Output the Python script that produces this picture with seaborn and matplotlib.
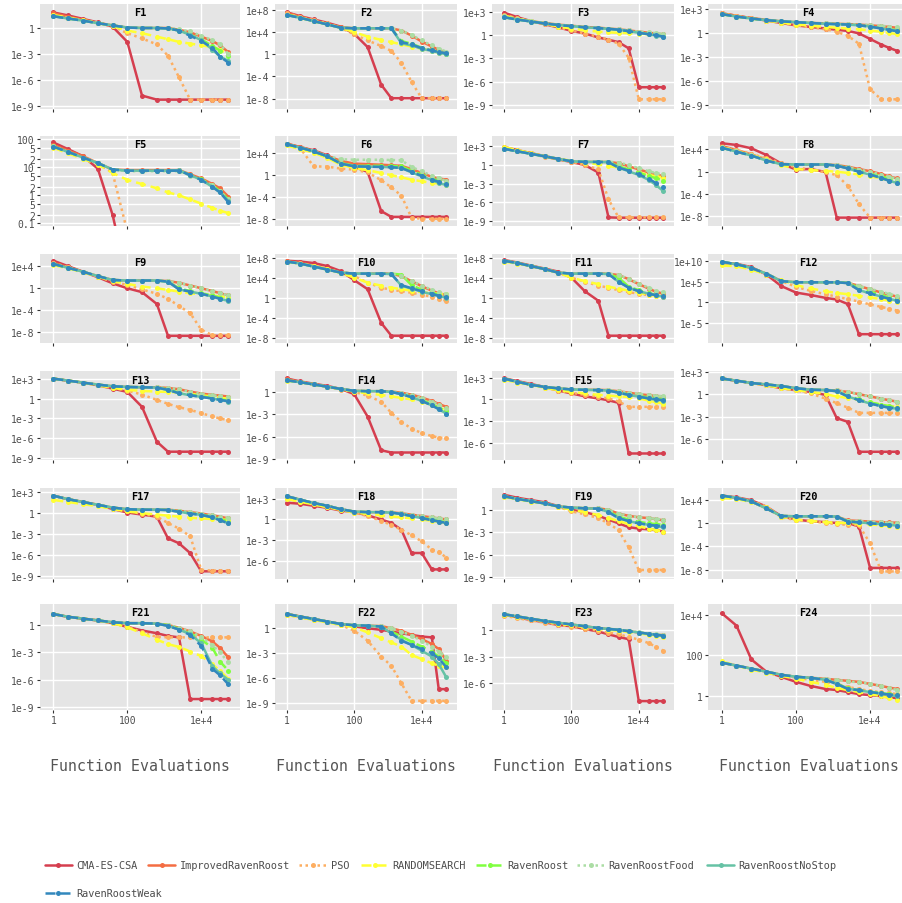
import matplotlib
matplotlib.use("Agg")
import matplotlib.pyplot as plt
from matplotlib.lines import Line2D
from matplotlib.ticker import FixedLocator, FixedFormatter, NullLocator, NullFormatter
import pandas as pd
import seaborn as sns

# Evaluation counts at which the best error is recorded
EVALS = [1, 2.5, 6.3, 16, 40, 100, 250, 630, 1260, 2500, 5000, 10000, 20000, 32000, 54000]
PANELS = [f"F{i}" for i in range(1, 25)]
ALGORITHMS = ["CMA-ES-CSA", "ImprovedRavenRoost", "PSO", "RANDOMSEARCH",
              "RavenRoost", "RavenRoostFood", "RavenRoostNoStop", "RavenRoostWeak"]

# log10 of the best error so far; one row per function F1..F24 (None = below the axis)
cma_es_csa = [
    [1.8, 1.45, 1.05, 0.65, 0.15, -1.6, -7.8, -8.27, -8.27, -8.27, -8.27, -8.27, -8.27, -8.27, -8.27],
    [7.6, 6.9, 6.3, 5.7, 5.0, 3.7, 1.3, -5.5, -7.95, -7.95, -7.95, -7.95, -7.95, -7.95, -7.95],
    [2.9, 2.3, 1.8, 1.4, 1.0, 0.55, 0.2, -0.3, -0.6, -0.9, -1.7, -6.7, -6.7, -6.7, -6.7],
    [2.5, 2.2, 1.9, 1.6, 1.3, 1.0, 0.8, 0.6, 0.45, 0.3, 0.0, -0.7, -1.4, -1.8, -2.2],
    [1.89, 1.65, 1.4, 0.95, -0.7, -3.0, None, None, None, None, None, None, None, None, None],
    [5.6, 5.0, 4.4, 3.5, 2.2, 1.4, 0.5, -6.6, -7.65, -7.65, -7.65, -7.65, -7.65, -7.65, -7.65],
    [2.9, 2.4, 1.9, 1.4, 0.9, 0.5, 0.0, -1.2, -8.4, -8.45, -8.45, -8.45, -8.45, -8.45, -8.45],
    [5.1, 4.8, 4.2, 3.0, 1.5, 0.4, 0.5, -0.05, -8.2, -8.2, -8.2, -8.2, -8.2, -8.2, -8.2],
    [5.0, 4.0, 3.0, 2.0, 0.9, 0.0, -0.7, -2.85, -8.6, -8.6, -8.6, -8.6, -8.6, -8.6, -8.6],
    [7.35, 7.2, 6.9, 6.3, 5.3, 3.5, 1.7, -5.0, -7.55, -7.55, -7.55, -7.55, -7.55, -7.55, -7.55],
    [7.5, 7.0, 6.4, 5.8, 5.2, 4.0, 1.3, -0.6, -7.55, -7.55, -7.55, -7.55, -7.55, -7.55, -7.55],
    [9.6, 9.4, 8.6, 6.8, 4.0, 2.4, 1.8, 1.1, 0.7, -0.4, -7.75, -7.75, -7.75, -7.75, -7.75],
    [3.0, 2.7, 2.4, 2.0, 1.5, 1.0, -1.25, -6.5, -8.0, -8.0, -8.0, -8.0, -8.0, -8.0, -8.0],
    [1.8, 1.4, 1.1, 0.8, 0.4, -0.3, -3.3, -7.8, -8.1, -8.1, -8.1, -8.1, -8.1, -8.1, -8.1],
    [2.9, 2.5, 2.1, 1.7, 1.2, 0.8, 0.4, 0.1, -0.15, -0.5, -7.5, -7.5, -7.5, -7.5, -7.5],
    [2.1, 1.8, 1.5, 1.2, 0.8, 0.55, 0.3, -0.1, -3.2, -3.7, -7.7, -7.7, -7.7, -7.7, -7.7],
    [2.5, 2.0, 1.6, 1.2, 0.6, 0.1, -0.2, -0.5, -3.6, -4.3, -5.7, -8.3, -8.3, -8.3, -8.3],
    [2.45, 2.3, 2.0, 1.7, 1.3, 1.07, 0.6, 0.0, -0.5, -1.5, -4.9, -4.9, -7.3, -7.3, -7.3],
    [2.0, 1.6, 1.3, 1.0, 0.5, 0.0, -0.3, -0.8, -1.3, -1.8, -2.3, -2.5, -2.6, -2.7, -2.9],
    [4.7, 4.4, 3.9, 2.8, 1.2, 0.6, 0.3, 0.15, 0.0, 0.0, -0.6, -7.7, -7.7, -7.7, -7.7],
    [1.2, 0.9, 0.7, 0.5, 0.2, -0.2, -0.6, -0.9, -1.2, -1.35, -8.1, -8.1, -8.1, -8.1, -8.1],
    [1.7, 1.4, 1.1, 0.8, 0.5, 0.2, 0.0, -0.2, -0.4, -0.6, -0.8, -1.0, -1.1, -7.3, -7.3],
    [1.7, 1.4, 1.1, 0.85, 0.55, 0.4, 0.1, -0.2, -0.5, -0.8, -1.05, -8.0, -8.0, -8.0, -8.0],
    [4.07, 3.46, 1.8, 1.2, 0.95, 0.7, 0.5, 0.35, 0.3, 0.2, 0.1, 0.05, 0.0, -0.05, -0.1],
]

improved_raven_roost = [
    [1.7, 1.3, 0.95, 0.6, 0.3, 0.05, 0.0, 0.0, 0.0, -0.2, -0.5, -1.0, -1.5, -2.0, -2.8],
    [7.5, 6.8, 6.1, 5.5, 4.9, 4.7, 4.7, 4.7, 4.7, 4.3, 3.4, 2.3, 1.4, 0.8, 0.3],
    [2.5, 2.1, 1.8, 1.55, 1.35, 1.2, 1.05, 0.95, 0.85, 0.75, 0.6, 0.45, 0.3, 0.2, 0.1],
    [2.5, 2.2, 1.9, 1.7, 1.5, 1.4, 1.3, 1.25, 1.2, 1.15, 1.1, 1.0, 0.9, 0.8, 0.7],
    [1.8, 1.6, 1.4, 1.15, 0.92, 0.9, 0.9, 0.9, 0.9, 0.9, 0.75, 0.6, 0.4, 0.25, -0.05],
    [5.6, 5.0, 4.3, 3.4, 2.5, 2.0, 1.9, 1.8, 1.7, 1.6, 1.0, 0.3, -0.4, -0.7, -0.9],
    [2.7, 2.3, 1.9, 1.45, 1.0, 0.6, 0.5, 0.5, 0.5, 0.3, -0.2, -0.7, -1.2, -1.5, -1.8],
    [4.6, 3.9, 3.1, 2.2, 1.4, 1.3, 1.3, 1.3, 1.2, 0.9, 0.5, 0.1, -0.4, -0.8, -1.2],
    [4.6, 3.8, 3.0, 2.2, 1.5, 1.4, 1.4, 1.4, 1.3, 1.0, 0.5, 0.0, -0.5, -0.9, -1.3],
    [7.3, 6.9, 6.3, 5.7, 5.0, 4.8, 4.8, 4.8, 4.8, 4.3, 3.3, 2.3, 1.4, 0.9, 0.5],
    [7.4, 6.9, 6.3, 5.7, 5.0, 4.8, 4.8, 4.8, 4.8, 4.5, 3.7, 2.7, 1.8, 1.2, 0.8],
    [9.9, 9.3, 8.4, 7.0, 5.2, 4.9, 4.9, 4.9, 4.9, 4.8, 4.0, 3.2, 2.4, 1.9, 1.4],
    [3.0, 2.7, 2.4, 2.1, 1.85, 1.75, 1.7, 1.7, 1.6, 1.4, 1.05, 0.75, 0.55, 0.45, 0.3],
    [1.7, 1.35, 1.0, 0.7, 0.4, 0.15, 0.1, 0.1, 0.05, -0.1, -0.35, -0.75, -1.2, -1.6, -2.0],
    [2.85, 2.4, 2.0, 1.7, 1.5, 1.35, 1.3, 1.3, 1.25, 1.1, 0.9, 0.7, 0.55, 0.45, 0.35],
    [2.1, 1.8, 1.5, 1.3, 1.1, 0.8, 0.6, 0.55, 0.5, 0.3, 0.0, -0.3, -0.6, -0.8, -1.0],
    [2.5, 2.0, 1.6, 1.2, 0.8, 0.57, 0.5, 0.5, 0.5, 0.35, 0.15, -0.05, -0.3, -0.5, -0.75],
    [3.4, 2.9, 2.4, 2.0, 1.5, 1.15, 1.07, 1.07, 1.05, 0.9, 0.7, 0.5, 0.3, 0.15, 0.0],
    [1.8, 1.45, 1.15, 0.85, 0.45, 0.3, 0.2, 0.2, 0.0, -0.5, -0.8, -1.0, -1.1, -1.25, -1.4],
    [4.7, 4.3, 3.7, 2.5, 1.2, 1.15, 1.15, 1.15, 1.1, 0.45, 0.35, 0.25, 0.15, 0.1, 0.05],
    [1.2, 0.9, 0.7, 0.5, 0.3, 0.2, 0.2, 0.15, 0.0, -0.3, -0.7, -1.2, -1.8, -2.5, -3.55],
    [1.7, 1.4, 1.1, 0.8, 0.5, 0.35, 0.3, 0.25, 0.0, -0.3, -0.8, -1.3, -1.9, -2.5, -3.9],
    [1.75, 1.5, 1.25, 1.0, 0.8, 0.6, 0.4, 0.2, 0.1, 0.0, -0.15, -0.3, -0.45, -0.55, -0.6],
    [1.64, 1.5, 1.35, 1.2, 1.05, 0.95, 0.9, 0.85, 0.8, 0.75, 0.7, 0.6, 0.5, 0.42, 0.35],
]

pso = [
    [1.5, 1.2, 0.9, 0.6, 0.2, -0.6, -1.2, -1.9, -3.2, -5.7, -8.27, -8.27, -8.27, -8.27, -8.27],
    [7.4, 6.8, 6.2, 5.6, 4.8, 3.6, 2.5, 1.5, 0.6, -1.5, -5.0, -7.95, -7.95, -7.95, -7.95],
    [2.6, 2.2, 1.8, 1.4, 1.0, 0.6, 0.2, -0.2, -0.6, -1.1, -2.9, -8.25, -8.25, -8.25, -8.25],
    [2.5, 2.2, 1.9, 1.6, 1.3, 1.0, 0.75, 0.5, 0.2, -0.3, -1.3, -7.0, -8.25, -8.25, -8.25],
    [1.75, 1.55, 1.35, 1.15, 0.8, -1.3, None, None, None, None, None, None, None, None, None],
    [5.5, 4.8, 1.5, 1.45, 1.1, 0.9, 0.4, -1.0, -2.3, -3.8, -7.8, -8.0, -8.0, -8.0, -8.0],
    [2.8, 2.3, 1.8, 1.3, 0.9, 0.5, 0.0, -0.7, -5.5, -8.4, -8.4, -8.4, -8.4, -8.4, -8.4],
    [4.5, 3.9, 3.2, 2.4, 1.6, 0.8, 0.4, -0.1, -0.6, -2.5, -5.8, -8.2, -8.2, -8.2, -8.2],
    [4.6, 3.8, 3.0, 2.1, 1.2, 0.6, -0.2, -1.0, -1.9, -3.2, -4.5, -7.5, -8.5, -8.5, -8.5],
    [7.2, 6.9, 6.4, 5.8, 5.0, 4.3, 3.0, 2.0, 1.6, 1.3, 1.0, 0.6, 0.2, -0.2, -0.6],
    [7.3, 6.9, 6.3, 5.7, 5.0, 4.0, 3.2, 2.4, 2.0, 1.5, 1.1, 0.8, 0.5, 0.3, 0.1],
    [9.5, 9.2, 8.4, 7.0, 5.2, 3.8, 2.8, 2.0, 1.4, 0.8, 0.2, -0.5, -1.1, -1.5, -2.0],
    [3.0, 2.7, 2.4, 2.0, 1.6, 1.2, 0.6, -0.2, -0.8, -1.3, -1.7, -2.2, -2.7, -3.0, -3.25],
    [1.6, 1.3, 1.0, 0.7, 0.3, 0.0, -0.5, -1.3, -2.8, -4.0, -4.9, -5.5, -5.9, -6.1, -6.2],
    [2.8, 2.4, 2.0, 1.6, 1.2, 0.9, 0.6, 0.35, 0.1, -0.3, -1.05, -1.05, -1.05, -1.05, -1.05],
    [2.1, 1.8, 1.5, 1.2, 0.8, 0.5, 0.1, -0.6, -1.2, -1.8, -2.5, -2.5, -2.5, -2.5, -2.5],
    [2.4, 2.0, 1.6, 1.2, 0.7, 0.3, -0.1, -0.5, -1.4, -2.2, -3.3, -8.1, -8.2, -8.2, -8.2],
    [3.0, 2.6, 2.2, 1.8, 1.4, 1.0, 0.5, -0.2, -0.8, -1.5, -2.3, -3.2, -4.4, -4.7, -5.6],
    [1.8, 1.5, 1.2, 0.9, 0.4, -0.2, -0.6, -1.1, -1.8, -2.7, -5.0, -8.0, -8.0, -8.0, -8.0],
    [4.6, 4.3, 3.8, 2.8, 1.0, 0.5, 0.3, 0.0, -0.2, -0.3, -0.4, -3.5, -8.3, -8.3, -8.3],
    [1.2, 0.9, 0.7, 0.5, 0.2, -0.15, -0.8, -1.3, -1.35, -1.35, -1.35, -1.35, -1.35, -1.35, -1.35],
    [1.6, 1.3, 1.0, 0.7, 0.4, -0.3, -1.5, -3.4, -4.5, -6.6, -8.7, -8.7, -8.7, -8.7, -8.7],
    [1.6, 1.3, 1.05, 0.8, 0.55, 0.35, 0.1, -0.1, -0.3, -0.5, -0.8, -1.1, -1.5, -1.9, -2.35],
    [1.64, 1.5, 1.35, 1.2, 1.05, 0.9, 0.8, 0.7, 0.6, 0.45, 0.35, 0.25, 0.2, 0.15, 0.1],
]

random_search = [
    [1.5, 1.2, 0.9, 0.6, 0.2, -0.3, -0.6, -1.0, -1.3, -1.6, -1.8, -2.0, -2.2, -2.5, -3.0],
    [7.2, 6.6, 6.0, 5.4, 4.8, 4.0, 3.2, 2.6, 2.2, 1.8, 1.4, 1.0, 0.6, 0.3, 0.05],
    [2.5, 2.1, 1.8, 1.5, 1.1, 0.85, 0.6, 0.45, 0.35, 0.3, 0.25, 0.2, 0.1, 0.05, 0.0],
    [2.4, 2.1, 1.85, 1.6, 1.35, 1.1, 0.95, 0.8, 0.7, 0.6, 0.5, 0.35, 0.2, 0.05, -0.1],
    [1.7, 1.5, 1.3, 1.1, 0.8, 0.55, 0.4, 0.25, 0.1, 0.0, -0.15, -0.3, -0.45, -0.55, -0.64],
    [5.3, 4.6, 4.0, 3.0, 1.8, 1.2, 0.8, 0.3, -0.1, -0.5, -0.9, -1.2, -1.5, -1.6, -1.8],
    [2.9, 2.4, 1.9, 1.4, 1.0, 0.7, 0.4, 0.1, -0.15, -0.4, -0.8, -1.2, -1.6, -1.8, -2.0],
    [4.4, 3.7, 3.0, 2.2, 1.2, 0.5, 0.3, 0.15, 0.0, -0.2, -0.5, -0.8, -1.2, -1.5, -1.7],
    [4.2, 3.6, 2.9, 2.1, 1.3, 0.8, 0.3, 0.0, -0.3, -0.6, -0.9, -1.1, -1.3, -1.5, -1.6],
    [7.1, 6.8, 6.3, 5.7, 4.9, 4.0, 3.0, 2.4, 2.0, 1.7, 1.4, 1.1, 0.9, 0.8, 0.7],
    [7.2, 6.8, 6.3, 5.7, 5.0, 4.0, 3.3, 2.7, 2.2, 1.8, 1.4, 1.0, 0.6, 0.4, 0.25],
    [9.0, 8.8, 8.0, 6.8, 5.5, 4.2, 3.4, 2.7, 2.3, 2.0, 1.6, 1.2, 0.8, 0.4, 0.0],
    [3.0, 2.7, 2.4, 2.0, 1.6, 1.3, 1.15, 1.05, 1.0, 0.9, 0.7, 0.5, 0.3, 0.1, 0.0],
    [1.5, 1.3, 1.0, 0.7, 0.35, 0.05, -0.2, -0.4, -0.6, -0.8, -1.0, -1.3, -1.7, -2.1, -2.45],
    [2.7, 2.3, 2.0, 1.6, 1.25, 1.0, 0.8, 0.6, 0.5, 0.4, 0.3, 0.1, -0.2, -0.4, -0.6],
    [2.1, 1.8, 1.5, 1.2, 0.8, 0.55, 0.3, 0.0, -0.3, -0.5, -0.8, -1.1, -1.4, -1.6, -1.7],
    [1.9, 1.6, 1.3, 1.0, 0.6, 0.25, 0.0, -0.2, -0.35, -0.5, -0.65, -0.75, -0.85, -0.9, -0.95],
    [3.0, 2.6, 2.2, 1.8, 1.4, 1.0, 0.8, 0.6, 0.45, 0.3, 0.15, 0.0, -0.2, -0.35, -0.5],
    [1.7, 1.4, 1.1, 0.85, 0.4, 0.0, -0.3, -0.7, -1.1, -1.5, -1.9, -2.2, -2.5, -2.7, -2.9],
    [4.3, 4.1, 3.6, 2.7, 1.1, 0.6, 0.35, 0.15, 0.05, 0.0, -0.1, -0.25, -0.4, -0.5, -0.6],
    [1.2, 0.9, 0.7, 0.5, 0.2, -0.25, -0.9, -1.6, -2.1, -2.4, -2.9, -3.4, -4.3, -5.0, -5.9],
    [1.6, 1.3, 1.0, 0.7, 0.4, 0.1, -0.5, -1.2, -1.7, -2.2, -3.2, -3.7, -4.2, -4.5, -4.7],
    [1.7, 1.45, 1.2, 0.95, 0.7, 0.5, 0.3, 0.1, 0.0, -0.1, -0.25, -0.4, -0.55, -0.65, -0.75],
    [1.7, 1.5, 1.3, 1.15, 1.0, 0.85, 0.7, 0.55, 0.4, 0.3, 0.2, 0.1, 0.0, -0.1, -0.2],
]

raven_roost = [
    [1.4, 1.1, 0.85, 0.55, 0.3, 0.05, 0.0, 0.0, -0.05, -0.3, -0.8, -1.3, -2.1, -2.6, -3.2],
    [7.2, 6.6, 6.0, 5.4, 4.8, 4.7, 4.7, 4.7, 4.7, 2.4, 1.9, 1.2, 0.7, 0.4, 0.1],
    [2.3, 2.0, 1.75, 1.5, 1.3, 1.15, 1.0, 0.9, 0.8, 0.7, 0.5, 0.3, 0.15, 0.05, -0.05],
    [2.4, 2.1, 1.85, 1.65, 1.5, 1.4, 1.3, 1.2, 1.15, 1.1, 1.0, 0.85, 0.65, 0.5, 0.4],
    [1.75, 1.55, 1.35, 1.15, 0.92, 0.88, 0.88, 0.88, 0.88, 0.88, 0.73, 0.57, 0.35, 0.15, -0.15],
    [5.5, 4.9, 4.2, 3.3, 2.1, 1.6, 1.6, 1.6, 1.55, 1.5, 0.7, 0.0, -0.7, -1.1, -1.4],
    [2.6, 2.2, 1.8, 1.4, 1.0, 0.6, 0.5, 0.5, 0.5, -0.2, -0.7, -1.2, -1.8, -2.1, -2.5],
    [4.3, 3.6, 2.9, 2.0, 1.35, 1.3, 1.3, 1.3, 1.1, 0.7, 0.2, -0.3, -0.8, -1.2, -1.5],
    [4.4, 3.7, 3.0, 2.2, 1.5, 1.4, 1.4, 1.4, 1.2, 0.0, -0.5, -0.9, -1.3, -1.7, -2.0],
    [7.2, 6.8, 6.2, 5.6, 5.0, 4.8, 4.8, 4.8, 4.8, 4.6, 2.5, 1.6, 1.0, 0.6, 0.3],
    [7.35, 6.9, 6.3, 5.7, 5.0, 4.8, 4.8, 4.8, 4.7, 4.0, 2.2, 1.5, 0.9, 0.6, 0.3],
    [9.9, 9.3, 8.4, 7.0, 5.2, 4.9, 4.9, 4.9, 4.9, 4.8, 3.5, 2.6, 1.8, 1.2, 0.7],
    [3.0, 2.7, 2.4, 2.1, 1.85, 1.75, 1.7, 1.65, 1.4, 0.9, 0.6, 0.35, 0.1, -0.1, -0.3],
    [1.55, 1.3, 1.0, 0.7, 0.4, 0.15, 0.1, 0.1, 0.0, -0.25, -0.6, -1.1, -1.6, -2.1, -2.6],
    [2.85, 2.4, 2.0, 1.7, 1.5, 1.35, 1.3, 1.25, 1.2, 0.95, 0.7, 0.45, 0.25, 0.1, 0.0],
    [2.1, 1.8, 1.5, 1.3, 1.1, 0.8, 0.6, 0.55, 0.4, -0.2, -0.7, -1.1, -1.4, -1.6, -1.8],
    [2.5, 2.0, 1.6, 1.2, 0.8, 0.57, 0.5, 0.5, 0.45, 0.25, 0.0, -0.2, -0.5, -0.8, -1.2],
    [3.4, 2.9, 2.4, 2.0, 1.5, 1.15, 1.07, 1.07, 1.0, 0.8, 0.5, 0.25, 0.0, -0.2, -0.4],
    [1.8, 1.45, 1.15, 0.85, 0.45, 0.3, 0.2, 0.15, -0.2, -0.9, -1.3, -1.6, -1.8, -1.9, -2.0],
    [4.7, 4.3, 3.7, 2.5, 1.2, 1.15, 1.15, 1.15, 1.1, 0.3, 0.15, 0.0, -0.15, -0.25, -0.35],
    [1.2, 0.9, 0.7, 0.5, 0.3, 0.2, 0.2, 0.15, 0.0, -0.4, -0.9, -1.6, -2.5, -4.0, -5.0],
    [1.7, 1.4, 1.1, 0.8, 0.5, 0.35, 0.3, 0.2, -0.4, -1.0, -1.6, -2.2, -2.8, -3.4, -4.2],
    [1.75, 1.5, 1.25, 1.0, 0.8, 0.6, 0.4, 0.2, 0.1, 0.0, -0.15, -0.3, -0.45, -0.55, -0.65],
    [1.64, 1.5, 1.35, 1.2, 1.05, 0.95, 0.9, 0.8, 0.62, 0.38, 0.3, 0.22, 0.15, 0.1, 0.05],
]

raven_roost_food = [
    [1.4, 1.1, 0.85, 0.55, 0.3, 0.05, 0.0, 0.0, 0.0, -0.15, -0.4, -0.9, -1.4, -1.9, -3.0],
    [7.2, 6.6, 6.0, 5.4, 4.8, 4.7, 4.7, 4.7, 4.7, 4.3, 3.5, 2.5, 1.6, 1.0, 0.5],
    [2.4, 2.1, 1.8, 1.55, 1.35, 1.2, 1.05, 0.95, 0.85, 0.75, 0.6, 0.45, 0.35, 0.25, 0.15],
    [2.4, 2.1, 1.85, 1.65, 1.5, 1.4, 1.3, 1.25, 1.2, 1.15, 1.1, 1.05, 0.95, 0.85, 0.75],
    [1.75, 1.55, 1.35, 1.15, 0.92, 0.86, 0.86, 0.86, 0.86, 0.86, 0.7, 0.55, 0.35, 0.15, -0.15],
    [5.5, 4.9, 4.3, 3.4, 2.8, 2.7, 2.7, 2.7, 2.65, 2.6, 1.4, 0.6, -0.2, -0.6, -1.15],
    [2.6, 2.2, 1.8, 1.4, 1.0, 0.6, 0.55, 0.55, 0.55, 0.4, 0.0, -0.5, -1.0, -1.3, -1.5],
    [4.4, 3.7, 3.0, 2.1, 1.4, 1.3, 1.3, 1.3, 1.2, 0.8, 0.4, 0.0, -0.5, -0.9, -1.25],
    [4.4, 3.7, 3.0, 2.2, 1.5, 1.4, 1.4, 1.4, 1.3, 1.0, 0.5, 0.0, -0.5, -0.9, -1.3],
    [7.2, 6.8, 6.2, 5.6, 5.0, 4.8, 4.8, 4.8, 4.8, 4.3, 3.4, 2.4, 1.6, 1.1, 0.7],
    [7.35, 6.9, 6.3, 5.7, 5.0, 4.8, 4.8, 4.8, 4.8, 4.5, 3.8, 2.8, 2.0, 1.4, 1.05],
    [9.9, 9.3, 8.4, 7.0, 5.2, 4.9, 4.9, 4.9, 4.9, 4.8, 4.0, 3.3, 2.6, 2.1, 1.6],
    [3.0, 2.7, 2.4, 2.1, 1.85, 1.75, 1.7, 1.7, 1.6, 1.4, 1.0, 0.7, 0.5, 0.4, 0.25],
    [1.6, 1.3, 1.0, 0.7, 0.4, 0.15, 0.1, 0.1, 0.05, -0.1, -0.4, -0.8, -1.3, -1.7, -2.2],
    [2.85, 2.4, 2.0, 1.7, 1.5, 1.35, 1.3, 1.3, 1.25, 1.1, 0.9, 0.75, 0.6, 0.5, 0.4],
    [2.1, 1.8, 1.5, 1.3, 1.1, 0.8, 0.6, 0.55, 0.5, 0.3, 0.0, -0.3, -0.6, -0.8, -1.0],
    [2.5, 2.0, 1.6, 1.2, 0.8, 0.57, 0.5, 0.5, 0.5, 0.35, 0.15, -0.05, -0.3, -0.5, -0.7],
    [3.4, 2.9, 2.4, 2.0, 1.5, 1.15, 1.07, 1.07, 1.05, 0.9, 0.7, 0.5, 0.3, 0.15, 0.0],
    [1.8, 1.45, 1.15, 0.85, 0.45, 0.3, 0.2, 0.2, 0.0, -0.5, -0.8, -1.0, -1.1, -1.2, -1.3],
    [4.7, 4.3, 3.7, 2.5, 1.2, 1.15, 1.15, 1.15, 1.1, 0.4, 0.3, 0.2, 0.1, 0.05, 0.0],
    [1.2, 0.9, 0.7, 0.5, 0.3, 0.2, 0.2, 0.15, 0.0, -0.3, -0.7, -1.3, -2.2, -3.0, -4.1],
    [1.7, 1.4, 1.1, 0.8, 0.5, 0.35, 0.3, 0.25, 0.0, -0.4, -0.9, -1.5, -2.2, -2.8, -3.5],
    [1.75, 1.5, 1.25, 1.0, 0.8, 0.6, 0.4, 0.22, 0.12, 0.02, -0.12, -0.27, -0.42, -0.52, -0.6],
    [1.64, 1.5, 1.35, 1.2, 1.05, 0.95, 0.9, 0.85, 0.8, 0.72, 0.68, 0.62, 0.5, 0.4, 0.3],
]

raven_roost_no_stop = [
    [1.35, 1.1, 0.85, 0.55, 0.3, 0.05, 0.0, 0.0, -0.05, -0.3, -0.8, -1.4, -2.5, -3.3, -3.8],
    [7.1, 6.6, 6.0, 5.4, 4.8, 4.7, 4.7, 4.7, 4.7, 2.0, 1.6, 1.0, 0.6, 0.3, 0.0],
    [2.3, 2.0, 1.75, 1.5, 1.3, 1.15, 1.0, 0.9, 0.8, 0.7, 0.5, 0.3, 0.1, -0.05, -0.25],
    [2.4, 2.1, 1.85, 1.65, 1.5, 1.4, 1.3, 1.2, 1.15, 1.1, 1.0, 0.85, 0.6, 0.45, 0.3],
    [1.74, 1.55, 1.35, 1.15, 0.92, 0.88, 0.88, 0.88, 0.88, 0.9, 0.72, 0.55, 0.3, 0.1, -0.2],
    [5.5, 4.9, 4.2, 3.3, 2.0, 1.5, 1.45, 1.4, 1.35, 1.2, 0.4, -0.3, -1.0, -1.5, -1.9],
    [2.6, 2.2, 1.8, 1.4, 1.0, 0.6, 0.5, 0.5, 0.45, -0.4, -1.0, -1.6, -2.4, -3.2, -4.2],
    [4.3, 3.6, 2.9, 2.0, 1.35, 1.3, 1.3, 1.3, 1.1, 0.6, 0.0, -0.5, -1.1, -1.6, -2.0],
    [4.4, 3.7, 3.0, 2.2, 1.5, 1.4, 1.4, 1.4, 1.2, -0.2, -0.6, -1.0, -1.5, -1.9, -2.3],
    [7.2, 6.8, 6.2, 5.6, 5.0, 4.8, 4.8, 4.8, 4.7, 2.4, 1.8, 1.2, 0.7, 0.3, 0.0],
    [7.35, 6.9, 6.3, 5.7, 5.0, 4.8, 4.8, 4.8, 4.7, 3.2, 2.0, 1.3, 0.8, 0.5, 0.2],
    [9.9, 9.3, 8.4, 7.0, 5.2, 4.9, 4.9, 4.9, 4.9, 4.7, 3.0, 2.2, 1.4, 0.9, 0.4],
    [3.0, 2.7, 2.4, 2.1, 1.85, 1.75, 1.7, 1.65, 1.3, 0.8, 0.5, 0.25, 0.0, -0.2, -0.45],
    [1.55, 1.3, 1.0, 0.7, 0.4, 0.15, 0.1, 0.1, 0.0, -0.3, -0.7, -1.2, -1.8, -2.3, -2.9],
    [2.85, 2.4, 2.0, 1.7, 1.5, 1.35, 1.3, 1.25, 1.2, 0.9, 0.6, 0.35, 0.1, -0.05, -0.2],
    [2.1, 1.8, 1.5, 1.3, 1.1, 0.8, 0.6, 0.55, 0.4, -0.3, -0.8, -1.25, -1.6, -1.8, -1.95],
    [2.5, 2.0, 1.6, 1.2, 0.8, 0.57, 0.5, 0.5, 0.45, 0.2, -0.05, -0.25, -0.6, -1.0, -1.45],
    [3.4, 2.9, 2.4, 2.0, 1.5, 1.15, 1.07, 1.07, 1.0, 0.8, 0.5, 0.2, -0.1, -0.3, -0.5],
    [1.8, 1.45, 1.15, 0.85, 0.45, 0.3, 0.2, 0.15, -0.3, -1.1, -1.5, -1.8, -2.0, -2.2, -2.3],
    [4.7, 4.3, 3.7, 2.5, 1.2, 1.15, 1.15, 1.15, 1.1, 0.25, 0.1, -0.05, -0.2, -0.3, -0.45],
    [1.2, 0.9, 0.7, 0.5, 0.3, 0.2, 0.2, 0.15, -0.1, -0.5, -1.0, -2.0, -4.5, -5.3, -6.0],
    [1.7, 1.4, 1.1, 0.8, 0.5, 0.35, 0.3, 0.2, -0.6, -1.4, -2.0, -2.7, -3.4, -4.3, -5.9],
    [1.75, 1.5, 1.25, 1.0, 0.8, 0.6, 0.4, 0.2, 0.1, 0.0, -0.15, -0.3, -0.45, -0.55, -0.7],
    [1.64, 1.5, 1.35, 1.2, 1.05, 0.95, 0.9, 0.8, 0.6, 0.36, 0.28, 0.2, 0.12, 0.06, 0.0],
]

raven_roost_weak = [
    [1.35, 1.1, 0.85, 0.55, 0.3, 0.05, 0.0, 0.0, -0.05, -0.3, -0.9, -1.5, -2.3, -3.3, -4.0],
    [7.1, 6.6, 6.0, 5.4, 4.8, 4.7, 4.7, 4.7, 4.7, 2.2, 1.8, 1.1, 0.7, 0.4, 0.2],
    [2.3, 2.0, 1.75, 1.5, 1.3, 1.15, 1.0, 0.9, 0.8, 0.7, 0.5, 0.3, 0.1, 0.0, -0.2],
    [2.4, 2.1, 1.85, 1.65, 1.5, 1.4, 1.3, 1.2, 1.15, 1.1, 1.0, 0.85, 0.6, 0.45, 0.25],
    [1.74, 1.55, 1.35, 1.15, 0.92, 0.88, 0.88, 0.88, 0.88, 0.88, 0.72, 0.55, 0.3, 0.1, -0.25],
    [5.5, 4.9, 4.2, 3.3, 2.0, 1.5, 1.45, 1.4, 1.35, 1.2, 0.5, -0.2, -0.9, -1.3, -1.75],
    [2.6, 2.2, 1.8, 1.4, 1.0, 0.6, 0.5, 0.5, 0.45, -0.4, -0.9, -1.5, -2.2, -2.9, -3.6],
    [4.3, 3.6, 2.9, 2.0, 1.35, 1.3, 1.3, 1.3, 1.1, 0.6, 0.0, -0.5, -1.1, -1.6, -2.0],
    [4.4, 3.7, 3.0, 2.2, 1.5, 1.4, 1.4, 1.4, 1.2, -0.2, -0.6, -1.0, -1.5, -1.9, -2.2],
    [7.2, 6.8, 6.2, 5.6, 5.0, 4.8, 4.8, 4.8, 4.7, 2.5, 1.9, 1.3, 0.8, 0.4, 0.05],
    [7.35, 6.9, 6.3, 5.7, 5.0, 4.8, 4.8, 4.8, 4.7, 3.2, 2.0, 1.3, 0.8, 0.5, 0.25],
    [9.9, 9.3, 8.4, 7.0, 5.2, 4.9, 4.9, 4.9, 4.9, 4.7, 3.0, 2.2, 1.4, 0.9, 0.4],
    [3.0, 2.7, 2.4, 2.1, 1.85, 1.75, 1.7, 1.65, 1.3, 0.8, 0.5, 0.25, 0.0, -0.2, -0.4],
    [1.55, 1.3, 1.0, 0.7, 0.4, 0.15, 0.1, 0.1, 0.0, -0.3, -0.7, -1.2, -1.8, -2.3, -2.9],
    [2.85, 2.4, 2.0, 1.7, 1.5, 1.35, 1.3, 1.25, 1.2, 0.9, 0.6, 0.35, 0.1, 0.0, -0.15],
    [2.1, 1.8, 1.5, 1.3, 1.1, 0.8, 0.6, 0.55, 0.4, -0.3, -0.8, -1.25, -1.6, -1.8, -1.9],
    [2.5, 2.0, 1.6, 1.2, 0.8, 0.57, 0.5, 0.5, 0.45, 0.2, -0.05, -0.25, -0.6, -1.0, -1.45],
    [3.4, 2.9, 2.4, 2.0, 1.5, 1.15, 1.07, 1.07, 1.0, 0.8, 0.5, 0.2, -0.1, -0.3, -0.5],
    [1.8, 1.45, 1.15, 0.85, 0.45, 0.3, 0.2, 0.15, -0.3, -1.1, -1.5, -1.8, -2.0, -2.1, -2.2],
    [4.7, 4.3, 3.7, 2.5, 1.2, 1.15, 1.15, 1.15, 1.1, 0.25, 0.1, -0.05, -0.2, -0.3, -0.45],
    [1.2, 0.9, 0.7, 0.5, 0.3, 0.2, 0.2, 0.15, -0.1, -0.5, -1.1, -2.3, -4.8, -5.5, -6.5],
    [1.7, 1.4, 1.1, 0.8, 0.5, 0.35, 0.3, 0.2, -0.6, -1.5, -2.0, -2.5, -3.0, -3.6, -4.7],
    [1.75, 1.5, 1.25, 1.0, 0.8, 0.6, 0.4, 0.2, 0.1, 0.0, -0.15, -0.3, -0.45, -0.55, -0.65],
    [1.64, 1.5, 1.35, 1.2, 1.05, 0.95, 0.9, 0.8, 0.6, 0.35, 0.3, 0.2, 0.13, 0.08, 0.05],
]

# y range (log10) and y breaks (log10) of every panel
YLIM_EXP = [(-9.35, 2.77), (-9.9, 9.1), (-9.5, 4.0), (-9.46, 3.67),
            (-1.1, 2.12), (-9.3, 7.0), (-9.78, 4.66), (-9.7, 6.4),
            (-9.9, 6.2), (-9.0, 8.7), (-9.0, 8.7), (-9.9, 11.8),
            (-9.25, 4.15), (-9.1, 2.8), (-8.4, 3.9), (-8.8, 3.1),
            (-9.4, 3.6), (-8.7, 4.6), (-9.2, 2.9), (-9.6, 6.0),
            (-9.3, 2.3), (-9.8, 2.9), (-9.0, 2.9), (-0.68, 4.52)]
YBREAK_EXP = [[-9, -6, -3, 0], [-8, -4, 0, 4, 8], [-9, -6, -3, 0, 3], [-9, -6, -3, 0, 3],
              [], [-8, -4, 0, 4], [-9, -6, -3, 0, 3], [-8, -4, 0, 4],
              [-8, -4, 0, 4], [-8, -4, 0, 4, 8], [-8, -4, 0, 4, 8], [-5, 0, 5, 10],
              [-9, -6, -3, 0, 3], [-9, -6, -3, 0], [-6, -3, 0, 3], [-6, -3, 0, 3],
              [-9, -6, -3, 0, 3], [-6, -3, 0, 3], [-9, -6, -3, 0], [-8, -4, 0, 4],
              [-9, -6, -3, 0], [-9, -6, -3, 0], [-6, -3, 0], [0, 2, 4]]
F5_BREAKS = [0.1, 0.2, 0.5, 1, 2, 5, 10, 20, 50, 100]
F5_LABELS = ["0.1", "2", "5", "1", "2", "5", "10", "2", "5", "100"]
F24_LABELS = ["1", "100", "1e+4"]
X_BREAKS = [1, 100, 10000]
X_LABELS = ["1", "100", "1e+4"]

PALETTE = {"CMA-ES-CSA": "#D53E4F", "ImprovedRavenRoost": "#F46D43", "PSO": "#FDAE61",
           "RANDOMSEARCH": "#FFFF33", "RavenRoost": "#80FF40", "RavenRoostFood": "#ABDDA4",
           "RavenRoostNoStop": "#66C2A5", "RavenRoostWeak": "#3288BD"}
DASHES = {"CMA-ES-CSA": "", "ImprovedRavenRoost": "", "PSO": (1, 1.4),
          "RANDOMSEARCH": (4, 2), "RavenRoost": (4, 2), "RavenRoostFood": (1, 1.4),
          "RavenRoostNoStop": "", "RavenRoostWeak": (4, 2)}
MARKERS = {a: "o" for a in ALGORITHMS}
LINE_W = 1.8
MARK_S = 3.6

series = dict(zip(ALGORITHMS, [cma_es_csa, improved_raven_roost, pso, random_search,
                               raven_roost, raven_roost_food, raven_roost_no_stop,
                               raven_roost_weak]))
records = []
for alg, rows in series.items():
    for panel, row in zip(PANELS, rows):
        for ev, v in zip(EVALS, row):
            if v is not None:
                records.append((panel, alg, ev, 10.0 ** v))
df = pd.DataFrame(records, columns=["function", "algorithm", "evaluations", "error"])

sns.set_theme(style="darkgrid")
plt.rcParams["font.family"] = ["DejaVu Sans Mono", "DejaVu Sans"]

W, H = 902, 904
fig = plt.figure(figsize=(W / 100, H / 100), dpi=100)
fig.patch.set_facecolor("white")

# panel geometry in pixels
COL_X0 = [53.3, 286.7, 504.0, 721.7]
COL_DW = [37.0, 33.75, 33.7, 37.1]
ROW_PX = [(5, 110), (137, 227), (255, 344), (372, 461), (489, 580), (605, 711)]
XLIM_EXP = (-0.36, 5.05)
TEXT_GREY = "#4D4D4D"

for i, panel in enumerate(PANELS):
    r, c = divmod(i, 4)
    top, bot = ROW_PX[r]
    x0, dw = COL_X0[c], COL_DW[c]
    left = x0 + XLIM_EXP[0] * dw
    width = (XLIM_EXP[1] - XLIM_EXP[0]) * dw
    ax = fig.add_axes([left / W, 1 - bot / H, width / W, (bot - top) / H])
    ax.set_facecolor("#E5E5E5")
    sub = df[df["function"] == panel]
    sns.lineplot(data=sub, x="evaluations", y="error", hue="algorithm",
                 hue_order=ALGORITHMS, palette=PALETTE, style="algorithm",
                 style_order=ALGORITHMS, dashes=DASHES, markers=MARKERS,
                 markersize=MARK_S, markeredgewidth=0, linewidth=LINE_W,
                 estimator=None, legend=False, ax=ax)
    ax.set_xscale("log")
    ax.set_yscale("log")
    ax.set_xlim(10 ** XLIM_EXP[0], 10 ** XLIM_EXP[1])
    lo, hi = YLIM_EXP[i]
    ax.set_ylim(10 ** lo, 10 ** hi)

    ax.xaxis.set_major_locator(FixedLocator(X_BREAKS))
    ax.xaxis.set_minor_locator(NullLocator())
    if r == 5:
        ax.xaxis.set_major_formatter(FixedFormatter(X_LABELS))
    else:
        ax.xaxis.set_major_formatter(NullFormatter())

    if panel == "F5":
        ybreaks, ylabels = F5_BREAKS, F5_LABELS
    else:
        ybreaks = [10.0 ** k for k in YBREAK_EXP[i]]
        if panel == "F24":
            ylabels = F24_LABELS
        else:
            ylabels = ["1" if k == 0 else f"1e{k:+d}" for k in YBREAK_EXP[i]]
    ax.yaxis.set_major_locator(FixedLocator(ybreaks))
    ax.yaxis.set_major_formatter(FixedFormatter(ylabels))
    ax.yaxis.set_minor_locator(NullLocator())

    ax.set_xlabel("")
    ax.set_ylabel("")
    ax.grid(True, which="major", color="white", linewidth=1.0)
    ax.set_axisbelow(True)
    for s in ax.spines.values():
        s.set_visible(False)
    ax.tick_params(axis="both", which="major", left=True, bottom=True, length=2.5,
                   width=0.8, color="#333333", labelsize=7, labelcolor=TEXT_GREY, pad=1.2)

    h_px = bot - top
    ax.text(0.5, 1 - 8.5 / h_px, panel, transform=ax.transAxes, ha="center", va="center",
            fontsize=7.4, fontweight="bold", color="black",
            family=["DejaVu Sans Mono", "DejaVu Sans"], zorder=10)

    if r == 5:
        cx = left + width / 2
        fig.text(cx / W, 1 - 767 / H, "Function Evaluations", ha="center", va="center",
                 fontsize=10.7, color="#555555")

# legend drawn below the grid of panels
LEG_ROWS = [(866, [(45, 0), (148, 1), (299, 2), (361, 3), (476, 4), (577, 5), (707, 6)]),
            (894, [(45, 7)])]
for y, entries in LEG_ROWS:
    for x, k in entries:
        alg = ALGORITHMS[k]
        dash = DASHES[alg]
        ls = "-" if dash == "" else (0, dash)
        line = Line2D([x / W, (x + 13.5) / W, (x + 27) / W], [1 - y / H] * 3,
                      transform=fig.transFigure, color=PALETTE[alg], linewidth=LINE_W,
                      linestyle=ls, marker="o", markersize=MARK_S, markeredgewidth=0,
                      markevery=[1])
        fig.add_artist(line)
        fig.text((x + 31.5) / W, 1 - y / H, alg, ha="left", va="center",
                 fontsize=7.4, color=TEXT_GREY)

fig.savefig("out.png", dpi=100, facecolor="white")
